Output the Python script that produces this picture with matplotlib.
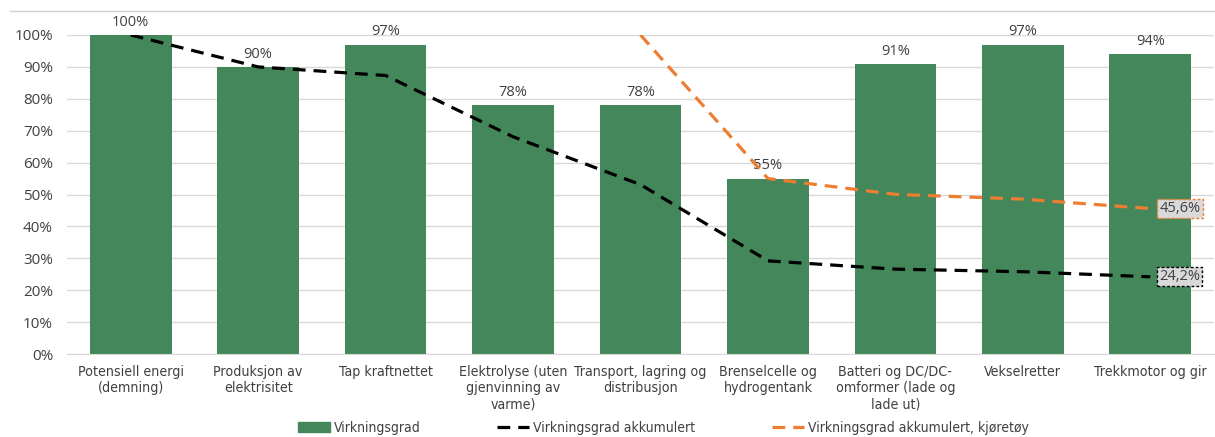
import numpy as np
import matplotlib.pyplot as plt
from matplotlib.lines import Line2D
from matplotlib.patches import Patch

kategorier = [
    "Potensiell energi\n(demning)",
    "Produksjon av\nelektrisitet",
    "Tap kraftnettet",
    "Elektrolyse (uten\ngjenvinning av\nvarme)",
    "Transport, lagring og\ndistribusjon",
    "Brenselcelle og\nhydrogentank",
    "Batteri og DC/DC-\nomformer (lade og\nlade ut)",
    "Vekselretter",
    "Trekkmotor og gir",
]
virkningsgrad = [1.00, 0.90, 0.97, 0.78, 0.78, 0.55, 0.91, 0.97, 0.94]
akkumulert = [1.00, 0.90, 0.873, 0.681, 0.531, 0.292, 0.266, 0.258, 0.242]
akkumulert_kjoretoy = [np.nan, np.nan, np.nan, np.nan, 1.00, 0.55, 0.5005, 0.4855, 0.456]

GRONN = "#43875A"
ORANSJE = "#ED7D31"
TEKST = "#404040"
smal = dict(family="DejaVu Sans", stretch="condensed")
strek = (4, 2.5)

fig = plt.figure(figsize=(12.15, 4.37), dpi=100)
ax = fig.add_axes([67 / 1215, 1 - 354 / 437, 1147 / 1215, 319 / 437])

x = np.arange(len(kategorier))
ax.bar(x, virkningsgrad, width=0.64, color=GRONN, zorder=2)
for xi, v in zip(x, virkningsgrad):
    ax.text(xi, v + 0.016, f"{v:.0%}", ha="center", va="bottom", fontsize=10.5,
            color=TEKST, family="Open Sans", clip_on=False)

ax.plot(x, akkumulert, color="black", lw=2.3, dashes=strek, zorder=3)
ax.plot(x, akkumulert_kjoretoy, color=ORANSJE, lw=2.3, dashes=strek, zorder=3)

# etiketter ved siste punkt
for serie, farge in [(akkumulert_kjoretoy, ORANSJE), (akkumulert, "black")]:
    v = serie[-1]
    ax.annotate(f"{v * 100:.1f}%".replace(".", ","), xy=(x[-1], v),
                xytext=(x[-1] + 0.07, v), ha="left", va="center", fontsize=10.5,
                color=TEKST, family="Open Sans", annotation_clip=False,
                bbox=dict(boxstyle="square,pad=0.15", fc="#D9D9D9", ec=farge,
                          ls=(0, (2, 1.5)), lw=1.0), zorder=5)

ax.set_xlim(-0.5, len(kategorier) - 0.5)
ax.set_ylim(0, 1)
yt = np.arange(0, 1.01, 0.1)
ax.set_yticks(yt)
ax.set_yticklabels([f"{t:.0%}" for t in yt], fontsize=11, color=TEKST, family="Open Sans")
ax.set_xticks(x)
ax.set_xticklabels(kategorier, fontsize=10.2, color=TEKST, linespacing=1.2, **smal)
ax.tick_params(length=0, axis="y", pad=10)
ax.tick_params(length=0, axis="x", pad=8)
ax.grid(axis="y", color="#D9D9D9", lw=1.0, zorder=0)
for s in ["top", "right", "left"]:
    ax.spines[s].set_visible(False)
ax.spines["bottom"].set_color("#D9D9D9")

fig.add_artist(Line2D([10 / 1215, 1], [1 - 11 / 437] * 2, color="#D0D0D0", lw=1.0))

handles = [
    Patch(color=GRONN),
    Line2D([], [], color="black", lw=2.3, dashes=strek),
    Line2D([], [], color=ORANSJE, lw=2.3, dashes=strek),
]
labels = ["Virkningsgrad", "Virkningsgrad akkumulert", "Virkningsgrad akkumulert, kjøretøy"]
fig.legend(handles, labels, loc="center", bbox_to_anchor=(0.546, 1 - 428 / 437),
           ncol=3, frameon=False, columnspacing=5.5, handlelength=2.3,
           handletextpad=0.3, prop=dict(size=10, **smal), labelcolor=TEKST)

fig.savefig("out.png", dpi=100)
